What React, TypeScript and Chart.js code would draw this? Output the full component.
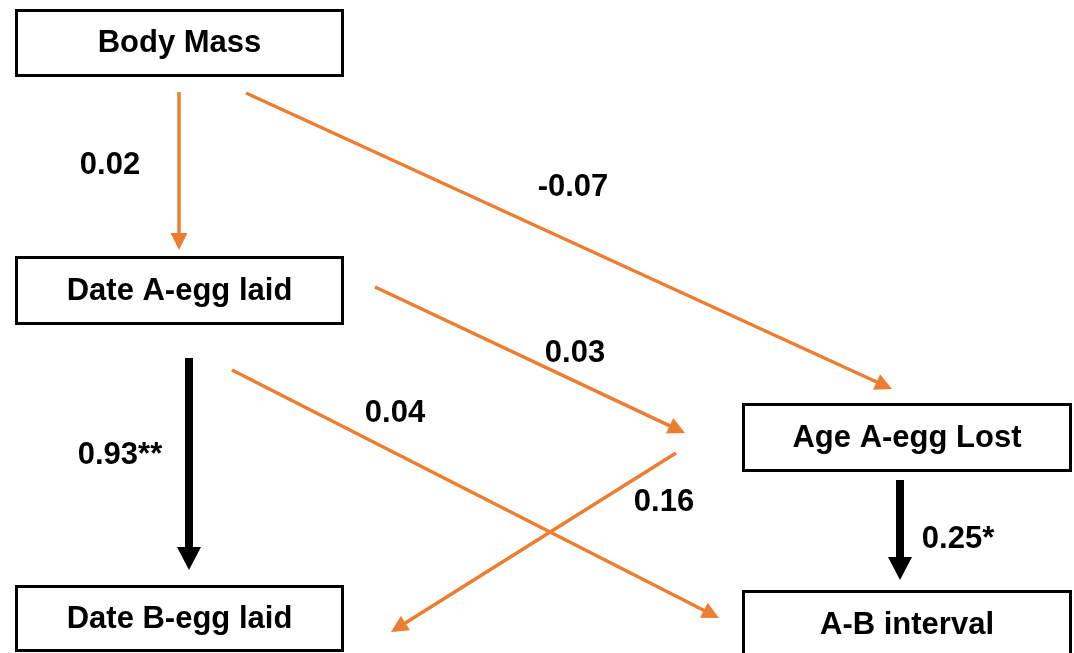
import React, { useEffect, useRef } from "react";
import { Chart, registerables } from "chart.js";
Chart.register(...registerables);

// Path diagram nodes (diagram units on a 1074 x 653 plane)
const nodeLabels = ["Body Mass", "Date A-egg laid", "Date B-egg laid", "Age A-egg Lost", "A-B interval"];
const nodeLeft = [15, 15, 15, 742, 742];
const nodeRight = [344, 344, 344, 1072, 1072];
const nodeTop = [9, 256, 585, 403, 590];
const nodeBottom = [77, 325, 652, 472, 659];

// Path edges
const pathCoefficients = ["0.02", "-0.07", "0.03", "0.04", "0.16", "0.93**", "0.25*"];
const edgeSignificant = [false, false, false, false, false, true, true];
const edgeStartX = [179, 246, 375, 232, 676, 189, 900];
const edgeStartY = [92, 93, 287, 370, 453, 358, 480];
const edgeEndX = [179, 892, 685, 719, 391, 189, 900];
const edgeEndY = [250, 389, 433, 618, 632, 570, 580];
const labelX = [110, 573, 575, 395, 664, 120, 958];
const labelY = [163, 185, 351, 411, 500, 453, 537];

const ORANGE = "#ED7D31";
const FONT = "bold 31px 'Liberation Sans', Arial, sans-serif";

const diagramPlugin = {
  id: "pathDiagram",
  afterDatasetsDraw(chart: any) {
    const ctx = chart.ctx as CanvasRenderingContext2D;
    const xs = chart.scales.x;
    const ys = chart.scales.y;
    const px = (v: number) => xs.getPixelForValue(v);
    const py = (v: number) => ys.getPixelForValue(v);
    ctx.save();
    // boxes
    ctx.font = FONT;
    ctx.textAlign = "center";
    ctx.textBaseline = "alphabetic";
    for (let i = 0; i < nodeLabels.length; i++) {
      const l = px(nodeLeft[i]);
      const r = px(nodeRight[i]);
      const t = py(nodeTop[i]);
      const b = py(nodeBottom[i]);
      ctx.fillStyle = "#ffffff";
      ctx.fillRect(l, t, r - l, b - t);
      ctx.strokeStyle = "#000000";
      ctx.lineWidth = 3;
      ctx.strokeRect(l + 1.5, t + 1.5, r - l - 3, b - t - 3);
      ctx.fillStyle = "#000000";
      ctx.fillText(nodeLabels[i], (l + r) / 2, (t + b) / 2 + 9);
    }
    // arrows
    for (let i = 0; i < pathCoefficients.length; i++) {
      const sx = px(edgeStartX[i]);
      const sy = py(edgeStartY[i]);
      const tx = px(edgeEndX[i]);
      const ty = py(edgeEndY[i]);
      const sig = edgeSignificant[i];
      const color = sig ? "#000000" : ORANGE;
      const lw = sig ? 8 : 3.5;
      const hl = sig ? 23 : 17;
      const hw = sig ? 12 : 8.5;
      const dx = tx - sx;
      const dy = ty - sy;
      const len = Math.sqrt(dx * dx + dy * dy);
      const ux = dx / len;
      const uy = dy / len;
      const bx = tx - ux * hl;
      const by = ty - uy * hl;
      ctx.strokeStyle = color;
      ctx.lineWidth = lw;
      ctx.lineCap = "butt";
      ctx.beginPath();
      ctx.moveTo(sx, sy);
      ctx.lineTo(bx + ux * 2, by + uy * 2);
      ctx.stroke();
      ctx.fillStyle = color;
      ctx.beginPath();
      ctx.moveTo(tx, ty);
      ctx.lineTo(bx - uy * hw, by + ux * hw);
      ctx.lineTo(bx + uy * hw, by - ux * hw);
      ctx.closePath();
      ctx.fill();
    }
    // coefficient labels
    ctx.fillStyle = "#000000";
    ctx.font = FONT;
    ctx.textAlign = "center";
    for (let i = 0; i < pathCoefficients.length; i++) {
      ctx.fillText(pathCoefficients[i], px(labelX[i]), py(labelY[i]) + 11);
    }
    ctx.restore();
  },
};

export default function App() {
  const canvasRef = useRef<HTMLCanvasElement | null>(null);
  useEffect(() => {
    document.body.style.margin = "0";
    document.body.style.background = "#ffffff";
    const canvas = canvasRef.current;
    if (!canvas) return;
    const chart = new Chart(canvas, {
      type: "scatter",
      data: {
        datasets: [
          {
            label: "nodes",
            data: nodeLabels.map((_, i) => ({
              x: (nodeLeft[i] + nodeRight[i]) / 2,
              y: (nodeTop[i] + nodeBottom[i]) / 2,
            })),
            pointRadius: 0,
            pointHoverRadius: 0,
          },
        ],
      },
      options: {
        animation: false,
        responsive: false,
        devicePixelRatio: 1,
        layout: { padding: 0 },
        events: [],
        plugins: { legend: { display: false }, tooltip: { enabled: false }, title: { display: false } },
        scales: {
          x: { type: "linear", min: 0, max: 1074, display: false },
          y: { type: "linear", min: 0, max: 653, reverse: true, display: false },
        },
      },
      plugins: [diagramPlugin],
    });
    return () => chart.destroy();
  }, []);
  return (
    <div style={{ width: 1074, height: 653, background: "#ffffff" }}>
      <canvas ref={canvasRef} width={1074} height={653} style={{ display: "block" }} />
    </div>
  );
}
